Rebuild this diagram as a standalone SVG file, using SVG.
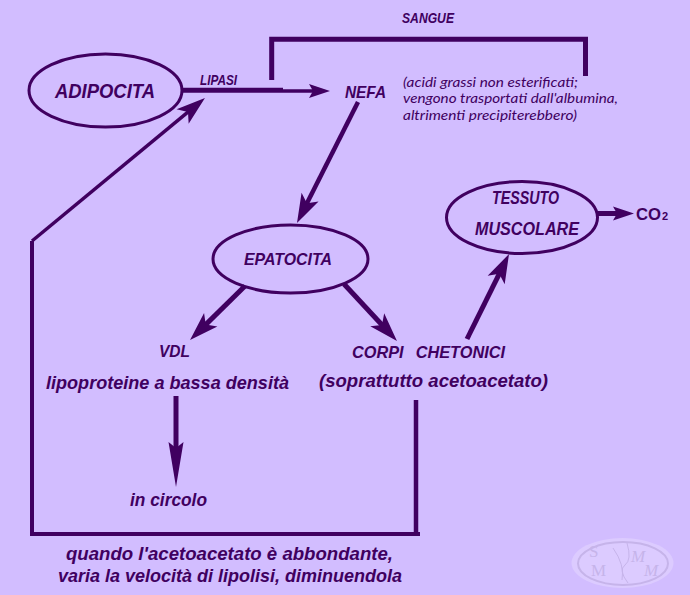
<svg xmlns="http://www.w3.org/2000/svg" width="690" height="595" viewBox="0 0 690 595">
<style>
.bg{fill:#d2bdff}
.o{fill:none;stroke:#400060;stroke-width:3}
.l{fill:none;stroke:#400060;stroke-linecap:butt;stroke-linejoin:miter}
text{font-family:"Liberation Sans",Arial,sans-serif;font-style:italic;font-weight:bold;fill:#400060}
.n{font-family:"Lato","Liberation Sans",sans-serif;font-weight:normal;font-size:13.500px}
.wm{fill:none;stroke:#c6b4ea}
.wt{font-family:"Liberation Serif",serif;font-weight:normal;font-style:normal;font-size:17px;fill:#c6b4ea}
.wt2{font-family:"Liberation Serif",serif;font-weight:normal;font-style:italic;font-size:17px;fill:#c6b4ea}
</style>
<defs>
<marker id="a" markerUnits="userSpaceOnUse" markerWidth="34" markerHeight="22" refX="19" refY="11" orient="auto" viewBox="0 0 34 22">
<path d="M31 11L2 1.500L9 11L2 20.500Z" fill="#400060"/>
</marker>
<marker id="b" markerUnits="userSpaceOnUse" markerWidth="48" markerHeight="18" refX="16" refY="9" orient="auto" viewBox="0 0 48 18">
<path d="M46 9L1 1.500L7 9L1 16.500Z" fill="#400060"/>
</marker>
<marker id="c" markerUnits="userSpaceOnUse" markerWidth="26" markerHeight="18" refX="8" refY="9" orient="auto" viewBox="0 0 26 18">
<path d="M23 9L2 2L6 9L2 16Z" fill="#400060"/>
</marker>
</defs>
<rect class="bg" width="690" height="595"/>
<g id="connectors">
<path class="l" stroke-width="5" d="M183 90.300H283"/>
<path class="l" stroke-width="3.500" d="M283 91H315" marker-end="url(#c)"/>
<path class="l" stroke-width="5" d="M271.700 80V39.300H585.500V76"/>
<path class="l" stroke-width="4.500" d="M358 102L302.400 212.300" marker-end="url(#a)"/>
<path class="l" stroke-width="3.500" d="M32 241L195.700 105.700" marker-end="url(#a)"/>
<path class="l" stroke-width="5" d="M245 286L198.600 331.600" marker-end="url(#a)"/>
<path class="l" stroke-width="5" d="M344 284L388.800 332.200" marker-end="url(#a)"/>
<path class="l" stroke-width="5" d="M467 339L503.700 264.800" marker-end="url(#a)"/>
<path class="l" stroke-width="5" d="M598 213.500H619" marker-end="url(#c)"/>
<path class="l" stroke-width="5" d="M176 396V457" marker-end="url(#b)"/>
<path class="l" stroke-width="4" d="M32 241V534H420"/>
<path class="l" stroke-width="4.500" d="M416 400V534"/>
</g>
<g id="adipocita">
<ellipse class="o" cx="105.500" cy="90.500" rx="76.500" ry="36.500"/>
<text x="55" y="98" font-size="20" textLength="100" lengthAdjust="spacingAndGlyphs">ADIPOCITA</text>
</g>
<g id="lipasi"><text x="200" y="85" font-size="14" textLength="37" lengthAdjust="spacingAndGlyphs">LIPASI</text></g>
<g id="sangue"><text x="402" y="23" font-size="14" textLength="52" lengthAdjust="spacingAndGlyphs">SANGUE</text></g>
<g id="nefa"><text x="345" y="98" font-size="17" textLength="41" lengthAdjust="spacingAndGlyphs">NEFA</text></g>
<g id="nefa-note">
<text class="n" x="403" y="87" textLength="175" lengthAdjust="spacingAndGlyphs">(acidi grassi non esterificati;</text>
<text class="n" x="403" y="103" textLength="215" lengthAdjust="spacingAndGlyphs">vengono trasportati dall'albumina,</text>
<text class="n" x="403" y="120" textLength="174" lengthAdjust="spacingAndGlyphs">altrimenti precipiterebbero)</text>
</g>
<g id="epatocita">
<ellipse class="o" cx="290.500" cy="259" rx="77.500" ry="34"/>
<text x="244" y="265" font-size="17" textLength="88" lengthAdjust="spacingAndGlyphs">EPATOCITA</text>
</g>
<g id="tessuto-muscolare">
<ellipse class="o" cx="522" cy="217.500" rx="75.500" ry="36"/>
<text x="492" y="204" font-size="17.500" textLength="67" lengthAdjust="spacingAndGlyphs">TESSUTO</text>
<text x="475" y="235" font-size="17.500" textLength="104" lengthAdjust="spacingAndGlyphs">MUSCOLARE</text>
</g>
<g id="co2"><text x="636" y="220" font-size="17" style="font-style:normal" textLength="25" lengthAdjust="spacingAndGlyphs">CO</text><text x="662" y="220" font-size="11" style="font-style:normal">2</text></g>
<g id="vdl">
<text x="159" y="357" font-size="17" textLength="31" lengthAdjust="spacingAndGlyphs">VDL</text>
<text x="46" y="389" font-size="18" textLength="243" lengthAdjust="spacingAndGlyphs">lipoproteine a bassa densità</text>
</g>
<g id="corpi">
<text x="352" y="358" font-size="17" word-spacing="8" textLength="153" lengthAdjust="spacingAndGlyphs">CORPI CHETONICI</text>
<text x="319" y="387" font-size="18" textLength="229" lengthAdjust="spacingAndGlyphs">(soprattutto acetoacetato)</text>
</g>
<g id="circolo"><text x="130" y="506" font-size="18" textLength="77" lengthAdjust="spacingAndGlyphs">in circolo</text></g>
<g id="note">
<text x="66" y="560" font-size="18" textLength="327" lengthAdjust="spacingAndGlyphs">quando l'acetoacetato è abbondante,</text>
<text x="58" y="582" font-size="18" textLength="344" lengthAdjust="spacingAndGlyphs">varia la velocità di lipolisi, diminuendola</text>
</g>
<g id="watermark">
<ellipse cx="622.500" cy="563" rx="51" ry="25" fill="#dccbff"/>
<ellipse class="wm" stroke-width="2" cx="623" cy="563.500" rx="45" ry="21.500"/>
<path class="wm" d="M613 548Q625 565 622 580M627 543Q632 560 625 565T628 583"/>
<text class="wt" x="589" y="557">S</text><text class="wt" x="591" y="576">M</text>
<text class="wt2" x="631" y="562">M</text><text class="wt2" x="644" y="576">M</text>
</g>
</svg>
